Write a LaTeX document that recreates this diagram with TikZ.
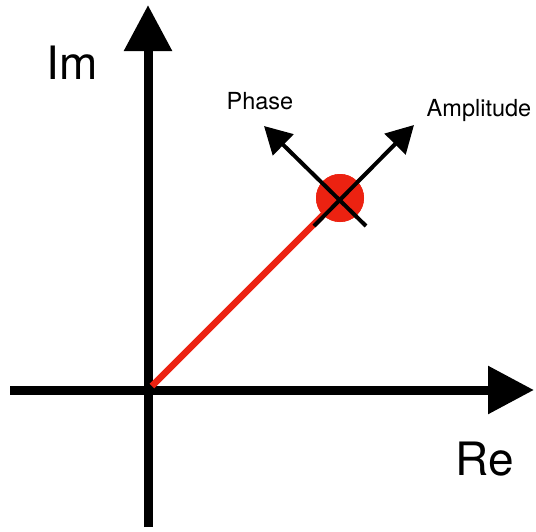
\documentclass[tikz,border=0pt]{standalone}
\usepackage{fontspec}
\setmainfont{TeX Gyre Heros}
\usetikzlibrary{arrows.meta}
\definecolor{ptred}{RGB}{236,34,17}
\tikzset{
  axis/.style={line width=9pt, -{Triangle[length=46pt,width=46pt]}},
  dir/.style={line width=4pt, -{Triangle[length=27pt,width=29pt]}},
  biglabel/.style={font=\fontsize{46}{46}\selectfont, inner sep=0pt},
  smalllabel/.style={font=\fontsize{23.5}{23.5}\selectfont, inner sep=0pt},
}
\begin{document}
\begin{tikzpicture}[x=1pt,y=-1pt]
\useasboundingbox (0,0) rectangle (536,531);
% axes
\coordinate (xs) at (10,390);
\coordinate (xe) at (534,390);
\coordinate (ys) at (148,527);
\coordinate (ye) at (148,5);
\coordinate (o) at (152,386);
\draw[axis] (xs) -- (xe);
\draw[axis] (ys) -- (ye);
% phasor
\node[circle, fill=ptred, minimum size=48pt, inner sep=0pt] (pt) at (340,198) {};
\draw[ptred, line width=6.5pt] (o) -- (pt.center);
\node[circle, fill=ptred, minimum size=48pt, inner sep=0pt] at (pt.center) {};
% direction arrows
\coordinate (as) at (314,226);
\coordinate (ae) at (414,125);
\coordinate (ps) at (366,226);
\coordinate (pe) at (264,126);
\draw[dir] (as) -- (ae);
\draw[dir] (ps) -- (pe);
% labels
\node[biglabel] (im) at (72,63) {Im};
\node[biglabel] (re) at (485,459) {Re};
\node[smalllabel] (ph) at (260,101) {Phase};
\node[smalllabel] (am) at (479,110) {Amplitude};
\end{tikzpicture}
\end{document}
